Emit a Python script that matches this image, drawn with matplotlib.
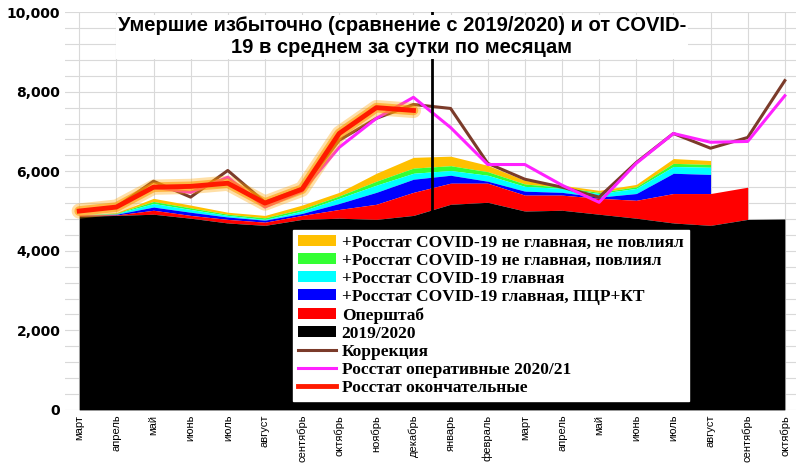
import numpy as np
import matplotlib.pyplot as plt
from matplotlib.ticker import FuncFormatter, MultipleLocator

months = ['март', 'апрель', 'май', 'июнь', 'июль', 'август', 'сентябрь', 'октябрь', 'ноябрь', 'декабрь',
          'январь', 'февраль', 'март', 'апрель', 'май', 'июнь', 'июль', 'август', 'сентябрь', 'октябрь']

# вершины слоёв (накопленные значения)
base_2019 = [4870, 4890, 4920, 4820, 4700, 4640, 4790, 4820, 4790, 4890,
             5170, 5220, 5000, 5020, 4920, 4820, 4700, 4640, 4790, 4800]
opershtab = [4900, 4900, 5020, 4890, 4790, 4720, 4890, 5040, 5170, 5470,
             5700, 5700, 5400, 5400, 5320, 5270, 5440, 5440, 5600]
main_pcr = [4900, 4920, 5100, 4970, 4850, 4770, 4940, 5190, 5470, 5800,
            5900, 5750, 5500, 5470, 5350, 5440, 5950, 5920]
main_cov = [4900, 4940, 5190, 5040, 4890, 4790, 5000, 5320, 5650, 5950,
            6020, 5900, 5620, 5570, 5440, 5570, 6120, 6100]
notmain_inf = [4900, 4950, 5240, 5080, 4920, 4830, 5050, 5380, 5750, 6080,
               6140, 5990, 5680, 5600, 5470, 5610, 6200, 6170]
notmain_noinf = [4900, 4960, 5320, 5150, 4970, 4890, 5150, 5470, 5950, 6350,
                 6380, 6150, 5770, 5650, 5520, 5670, 6320, 6270]

korr = [5000, 5100, 5750, 5350, 6020, 5220, 5570, 6780, 7330, 7680,
        7580, 6200, 5800, 5600, 5350, 6220, 6950, 6580, 6850, 8280]
oper = [5000, 5100, 5600, 5470, 5850, 5100, 5500, 6600, 7330, 7860,
        7100, 6170, 6170, 5650, 5220, 6200, 6950, 6730, 6750, 7900]
final = [5000, 5100, 5600, 5620, 5700, 5200, 5550, 6950, 7600, 7530]

fig = plt.figure(figsize=(8.04, 4.69), dpi=100)
ax = fig.add_axes([0.081, 0.126, 0.909, 0.848])

x = np.arange(len(months))

def layer(top, bottom, color, label):
    n = len(top)
    ax.fill_between(x[:n], np.array(bottom[:n]), np.array(top), color=color, lw=0, label=label)

zero = [0] * len(months)
layer(notmain_noinf, notmain_inf, '#ffc000', '+Росстат COVID-19 не главная, не повлиял')
layer(notmain_inf, main_cov, '#33ff33', '+Росстат COVID-19 не главная, повлиял')
layer(main_cov, main_pcr, '#00ffff', '+Росстат COVID-19 главная')
layer(main_pcr, opershtab, '#0000ff', '+Росстат COVID-19 главная, ПЦР+КТ')
layer(opershtab, base_2019, '#ff0000', 'Оперштаб')
layer(base_2019, zero, '#000000', '2019/2020')

ax.plot(x, korr, color='#7b3b2a', lw=2.2, label='Коррекция')
ax.plot(x, oper, color='#ff22ff', lw=2.2, label='Росстат оперативные 2020/21')
ax.plot(x[:len(final)], final, color='#ffa500', lw=11, alpha=0.35, solid_capstyle='round')
ax.plot(x[:len(final)], final, color='#ff9900', lw=7, alpha=0.6, solid_capstyle='round')
ax.plot(x[:len(final)], final, color='#ff1a00', lw=3.5, label='Росстат окончательные')

ax.axvline(9.5, color='black', lw=2, ymin=0, ymax=1.0)

ax.set_xlim(-0.38, 19.3)
ax.set_ylim(0, 10000)
ax.set_xticks(x)
ax.set_xticklabels(months, rotation=90, fontsize=8, family='Liberation Sans')
ax.yaxis.set_major_locator(MultipleLocator(2000))
ax.yaxis.set_minor_locator(MultipleLocator(400))
ax.yaxis.set_major_formatter(FuncFormatter(lambda v, p: f'{int(v):,}'))
for t in ax.get_yticklabels():
    t.set_fontweight('bold')
    t.set_fontsize(10)
ax.tick_params(axis='y', which='both', length=0)
ax.tick_params(axis='x', length=0)
ax.grid(True, which='both', color='#d9d9d9', lw=0.8)
ax.set_axisbelow(True)
for s in ax.spines.values():
    s.set_visible(False)

h, l = ax.get_legend_handles_labels()
order = ['+Росстат COVID-19 не главная, не повлиял', '+Росстат COVID-19 не главная, повлиял',
         '+Росстат COVID-19 главная', '+Росстат COVID-19 главная, ПЦР+КТ', 'Оперштаб', '2019/2020',
         'Коррекция', 'Росстат оперативные 2020/21', 'Росстат окончательные']
hs = [h[l.index(o)] for o in order]
leg = ax.legend(hs, order, loc='lower left', bbox_to_anchor=(0.3, 0.0), frameon=True, fancybox=False,
                edgecolor='white', framealpha=1, borderpad=0.3, labelspacing=0.12, handlelength=2.2,
                handleheight=0.6, handletextpad=0.3,
                prop={'family': 'Liberation Serif', 'weight': 'bold', 'size': 12.5})
leg.set_zorder(5)

fig.text(0.5, 0.965, 'Умершие избыточно (сравнение с 2019/2020) и от COVID-\n19 в среднем за сутки по месяцам',
         ha='center', va='top', fontsize=14.5, fontweight='bold', family='Liberation Sans',
         bbox=dict(facecolor='white', edgecolor='none', pad=1), zorder=10)

fig.savefig('out.png', dpi=100)
